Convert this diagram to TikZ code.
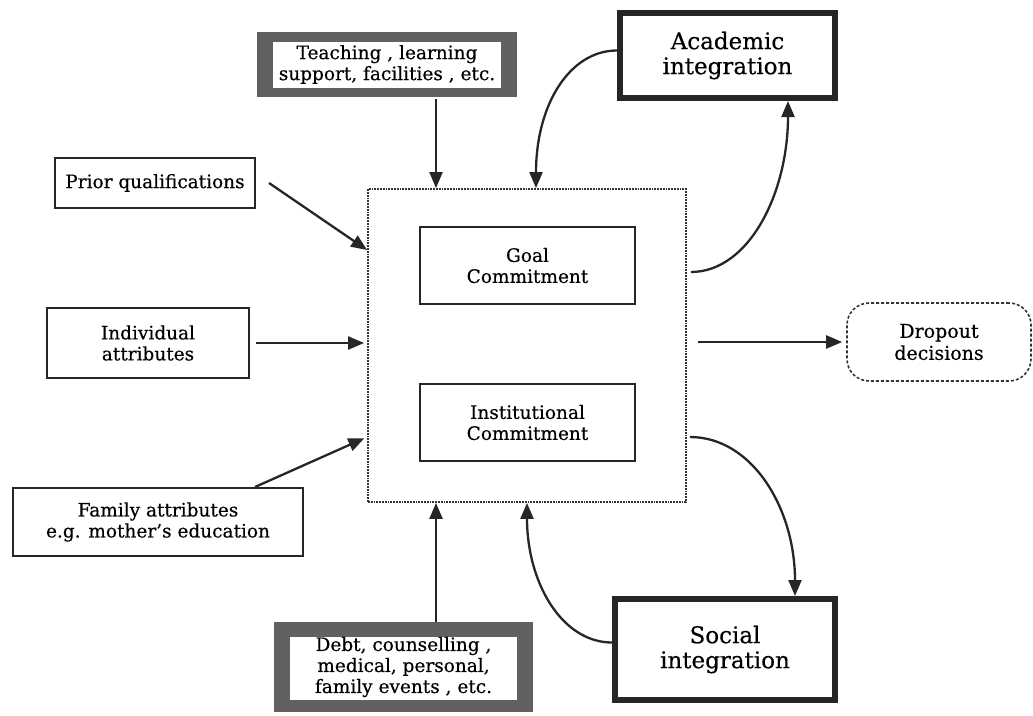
\documentclass[tikz,border=0pt]{standalone}
\usepackage{fontspec}
\setmainfont[FakeBold=0.4]{DejaVu Serif}
\usetikzlibrary{arrows.meta}
\begin{document}
\begin{tikzpicture}[x=1pt,y=-1pt,
  box/.style={draw=black!85, line width=2pt, align=center, inner sep=0pt,
    font=\fontsize{18.5}{21}\selectfont},
  thickbox/.style={draw=black!85, line width=6pt, align=center, inner sep=0pt,
    font=\fontsize{23}{25}\selectfont},
  shadebox/.style n args={2}{fill=black!62, align=center, inner sep=0pt,
    font=\fontsize{18.5}{21}\selectfont,
    path picture={\fill[white] ([xshift=16pt,yshift=-#1]path picture bounding box.north west)
      rectangle ([xshift=-16pt,yshift=#2]path picture bounding box.south east);}},
  bigbox/.style={draw=black!80, line width=1.8pt, densely dotted, inner sep=0pt},
  dropbox/.style={draw=black!80, line width=1.6pt, densely dashed, rounded corners=22pt,
    align=center, inner sep=0pt, font=\fontsize{19}{22}\selectfont},
  arr/.style={draw=black!85, line width=2.3pt, -{Triangle[length=16pt,width=13pt]}}
]
\useasboundingbox (0,0) rectangle (1033,715);

% nodes
\node[shadebox={10pt}{9pt}, minimum width=260pt, minimum height=65pt] (teach) at (387,64.5)
  {Teaching , learning\\support, facilities , etc.};
\node[thickbox, minimum width=215pt, minimum height=85pt] (acad) at (727.5,55.5)
  {Academic\\integration};
\node[box, minimum width=200pt, minimum height=50pt] (prior) at (155,183)
  {Prior qualifications};
\node[bigbox, minimum width=318pt, minimum height=313pt] (big) at (527,345.5) {};
\node[box, minimum width=215pt, minimum height=77pt] (goal) at (527.5,265.5)
  {Goal\\Commitment};
\node[box, minimum width=215pt, minimum height=77pt] (inst) at (527.5,422.5)
  {Institutional\\Commitment};
\node[box, minimum width=202pt, minimum height=70pt] (indiv) at (148,343)
  {Individual\\attributes};
\node[box, minimum width=290pt, minimum height=68pt] (family) at (158,522)
  {Family attributes\\e.g. mother's education};
\node[shadebox={15pt}{12pt}, minimum width=259pt, minimum height=90pt] (debt) at (403.5,667)
  {Debt, counselling ,\\medical, personal,\\family events , etc.};
\node[thickbox, minimum width=220pt, minimum height=101pt] (social) at (725,649.5)
  {Social\\integration};
\node[dropbox, minimum width=184pt, minimum height=78pt] (drop) at (939,342)
  {Dropout\\decisions};

% helper coordinates
\coordinate (xT) at (436,0);
\coordinate (xA) at (536,0);
\coordinate (xS) at (527,0);
\coordinate (xAu) at (788,0);
\coordinate (xSd) at (795,0);
\coordinate (xF) at (255,0);
\coordinate (yP) at (0,250);
\coordinate (yF) at (0,437);
\coordinate (yAu) at (0,272);
\coordinate (ySd) at (0,437);

% straight connectors
\draw[arr, shorten <=2pt] (teach.south -| xT) -- (big.north -| xT);
\draw[arr] ([xshift=13pt]prior.east) -- (big.west |- yP);
\draw[arr, shorten >=3pt] ([xshift=6pt]indiv.east) -- (big.west |- indiv.east);
\draw[arr, shorten >=3pt] (family.north -| xF) -- (big.west |- yF);
\draw[arr] (debt.north -| xT) -- (big.south -| xT);
\draw[arr, shorten >=4pt] ([xshift=11pt]big.east |- drop.west) -- (drop.west);

% curved connectors
\draw[arr] ([yshift=5pt]acad.west) .. controls +(-47,0) and +(0,-84) .. (big.north -| xA);
\draw[arr] ([xshift=4pt]big.east |- yAu) .. controls +(58,0) and +(0,92) .. (acad.south -| xAu);
\draw[arr] ([yshift=7pt]social.west) .. controls +(-50,0) and +(0,80) .. (big.south -| xS);
\draw[arr] ([xshift=3pt]big.east |- ySd) .. controls +(62,0) and +(0,-88) .. (social.north -| xSd);
\end{tikzpicture}
\end{document}
